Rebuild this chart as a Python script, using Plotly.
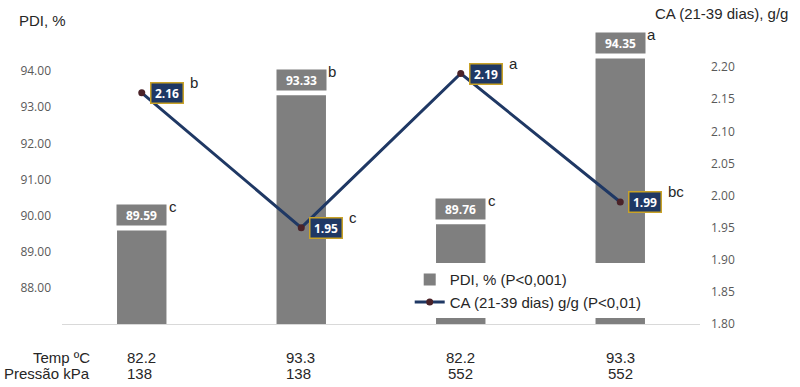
import plotly.graph_objects as go

categories = ["T1", "T2", "T3", "T4"]
temp = ["82.2", "93.3", "82.2", "93.3"]
pressao = ["138", "138", "552", "552"]
pdi = [89.59, 93.33, 89.76, 94.35]
pdi_letters = ["c", "b", "c", "a"]
ca = [2.16, 1.95, 2.19, 1.99]
ca_letters = ["b", "c", "a", "bc"]
left_ticks = [88, 89, 90, 91, 92, 93, 94]
right_ticks = [1.80, 1.85, 1.90, 1.95, 2.00, 2.05, 2.10, 2.15, 2.20]

TXT = "#262626"
TICK = "#595959"
NAVY = "#1f3864"
GRAY = "#7f7f7f"

fig = go.Figure()
fig.add_trace(go.Bar(
    x=categories, y=pdi, name="PDI, % (P<0,001)",
    marker=dict(color=GRAY, line=dict(width=0)), width=0.31, yaxis="y",
))
fig.add_trace(go.Scatter(
    x=categories, y=ca, name="CA (21-39 dias) g/g (P<0,01)", yaxis="y2",
    mode="lines+markers",
    line=dict(color=NAVY, width=3),
    marker=dict(color="#4a2228", size=7, line=dict(color="#4a2228", width=0)),
))

ann = []
for c, v, l in zip(categories, pdi, pdi_letters):
    ann.append(dict(x=c, y=v, xref="x", yref="y", yanchor="bottom", yshift=4,
                    text=f"<b>{v:.2f}</b>", showarrow=False, bgcolor=GRAY,
                    font=dict(color="white", size=12, family="Open Sans"),
                    width=45, height=16, borderpad=2))
    ann.append(dict(x=c, y=v, xref="x", yref="y", xanchor="left", yanchor="middle",
                    xshift=25, yshift=24, text=l, showarrow=False,
                    font=dict(color=TXT, size=15, family="Liberation Sans")))
for c, v, l in zip(categories, ca, ca_letters):
    ann.append(dict(x=c, y=v, xref="x", yref="y2", xanchor="left", yanchor="middle",
                    xshift=8, text=f"<b>{v:.2f}</b>", showarrow=False, bgcolor=NAVY,
                    bordercolor="#c9a227", borderwidth=1.5, borderpad=1.5,
                    font=dict(color="white", size=12, family="Open Sans"),
                    width=28, height=16))
    ann.append(dict(x=c, y=v, xref="x", yref="y2", xanchor="left", yanchor="middle",
                    xshift=46, yshift=10, text=l, showarrow=False,
                    font=dict(color=TXT, size=15, family="Liberation Sans")))
for i, (c, t, p) in enumerate(zip(categories, temp, pressao)):
    anchor = "left" if i < 2 else "center"
    shift = -17 if i < 2 else 0
    ann.append(dict(x=c, y=0, xref="x", yref="paper", xanchor=anchor, yanchor="middle",
                    xshift=shift, yshift=-33, text=t, showarrow=False,
                    font=dict(color=TXT, size=15, family="Liberation Sans")))
    ann.append(dict(x=c, y=0, xref="x", yref="paper", xanchor=anchor, yanchor="middle",
                    xshift=shift, yshift=-49, text=p, showarrow=False,
                    font=dict(color=TXT, size=15, family="Liberation Sans")))
ann.append(dict(x=0.047, y=0, xref="paper", yref="paper", xanchor="right", yanchor="middle",
                yshift=-33, text="Temp ºC", showarrow=False,
                font=dict(color=TXT, size=15, family="Liberation Sans")))
ann.append(dict(x=0.047, y=0, xref="paper", yref="paper", xanchor="right", yanchor="middle",
                yshift=-49, text="Pressão kPa", showarrow=False,
                font=dict(color=TXT, size=15, family="Liberation Sans")))
ann.append(dict(x=-0.0705, y=1, xref="paper", yref="paper", xanchor="left", yanchor="middle",
                yshift=15, text="PDI, %", showarrow=False,
                font=dict(color=TXT, size=15, family="Liberation Sans")))
ann.append(dict(x=1.141, y=1, xref="paper", yref="paper", xanchor="right", yanchor="middle",
                yshift=22, text="CA (21-39 dias), g/g", showarrow=False,
                font=dict(color=TXT, size=15, family="Liberation Sans")))

fig.update_layout(
    width=800, height=387,
    margin=dict(l=62, r=100, t=35, b=63),
    paper_bgcolor="white", plot_bgcolor="white",
    showlegend=True,
    legend=dict(x=0.545, y=0.02, xanchor="left", yanchor="bottom", bgcolor="white",
                font=dict(color=TXT, size=15, family="Liberation Sans"),
                tracegroupgap=0, itemwidth=30),
    xaxis=dict(showticklabels=False, showline=True, linecolor="#d9d9d9", linewidth=1,
               ticks="", showgrid=False, zeroline=False),
    yaxis=dict(range=[87, 95], tickvals=left_ticks, tickformat=".2f", showgrid=False,
               zeroline=False, showline=False, ticks="",
               tickfont=dict(color=TICK, size=12, family="Open Sans"), ticklabelstandoff=10),
    yaxis2=dict(range=[1.80, 2.25], tickvals=right_ticks, tickformat=".2f", overlaying="y",
                side="right", showgrid=False, zeroline=False, showline=False, ticks="",
                tickfont=dict(color=TICK, size=12, family="Open Sans"), ticklabelstandoff=10),
    annotations=ann,
)
fig.write_html("out.html", config={"displayModeBar": False},
               post_script="document.body.style.margin='0';document.body.style.overflow='hidden';")
